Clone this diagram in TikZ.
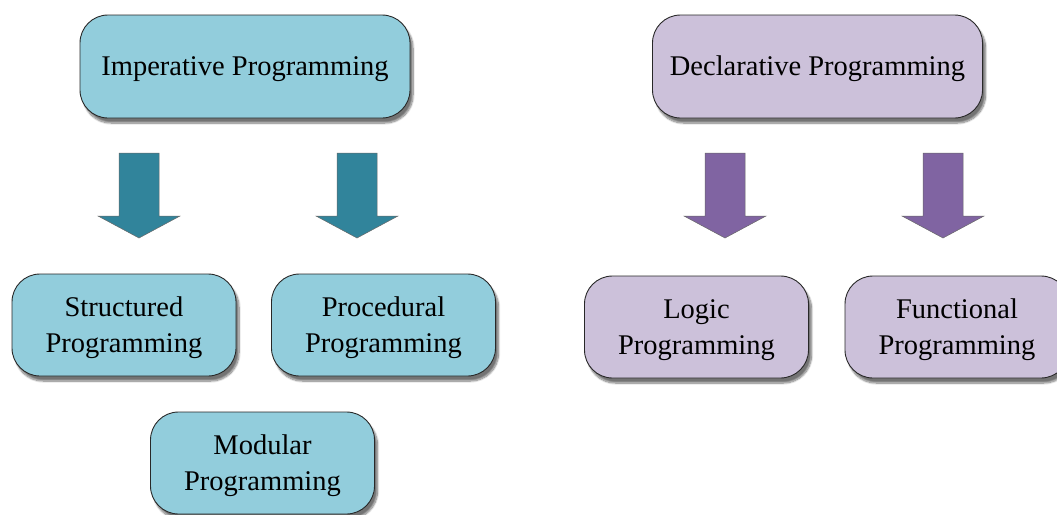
\documentclass[tikz,border=0pt]{standalone}
\usepackage{fontspec}
\setmainfont{Liberation Serif}
\usetikzlibrary{shadows.blur}
\definecolor{tealfill}{RGB}{146,205,220}
\definecolor{lilacfill}{RGB}{204,193,218}
\definecolor{tealarrow}{RGB}{49,132,155}
\definecolor{lilacarrow}{RGB}{128,100,162}
\definecolor{edgegray}{RGB}{40,40,40}
\tikzset{
  box/.style={draw=edgegray, line width=0.9pt, rounded corners=28pt,
    minimum width=224pt, minimum height=102pt, align=center,
    font=\fontsize{28.5}{35.5}\selectfont, inner sep=0pt,
    blur shadow={shadow xshift=3pt, shadow yshift=-5pt, shadow blur steps=10, shadow blur extra rounding=2pt, shadow opacity=55}},
  bigbox/.style={box, minimum width=330pt, minimum height=103pt},
  imp/.style={fill=tealfill},
  decl/.style={fill=lilacfill},
  downarrow/.style={draw=edgegray!70, line width=0.5pt}
}
% one-line label, baseline placed below the box centre
\newcommand{\oneline}[1]{\raisebox{-8.5pt}[0pt][0pt]{#1}}
% two-line label, last baseline placed below the box centre
\newcommand{\twolines}[2]{\raisebox{-27.3pt}[0pt][0pt]{\begin{tabular}[b]{@{}c@{}}#1\\#2\end{tabular}}}
\begin{document}
\begin{tikzpicture}[x=1pt,y=-1pt]
\useasboundingbox (0,0) rectangle (1057,514);
% top level
\node[bigbox, imp]  (imperative)  at (245,66.5) {\oneline{Imperative Programming}};
\node[bigbox, decl] (declarative) at (817.5,66.5) {\oneline{Declarative Programming}};
% second level
\node[box, imp]  (structured) at (124,325) {\twolines{Structured}{Programming}};
\node[box, imp]  (procedural) at (383.5,325) {\twolines{Procedural}{Programming}};
\node[box, imp]  (modular)    at (262.5,463) {\twolines{Modular}{Programming}};
\node[box, decl] (logic)      at (696.5,327) {\twolines{Logic}{Programming}};
\node[box, decl] (functional) at (957,327) {\twolines{Functional}{Programming}};
% block arrows
\newcommand{\blockarrow}[2]{%
  \fill[#2, downarrow] (#1-20,153) -- (#1+20,153) -- (#1+20,216) -- (#1+41,216)
    -- (#1,238) -- (#1-41,216) -- (#1-20,216) -- cycle;}
\blockarrow{139}{tealarrow}
\blockarrow{357}{tealarrow}
\blockarrow{725}{lilacarrow}
\blockarrow{943}{lilacarrow}
\end{tikzpicture}
\end{document}
